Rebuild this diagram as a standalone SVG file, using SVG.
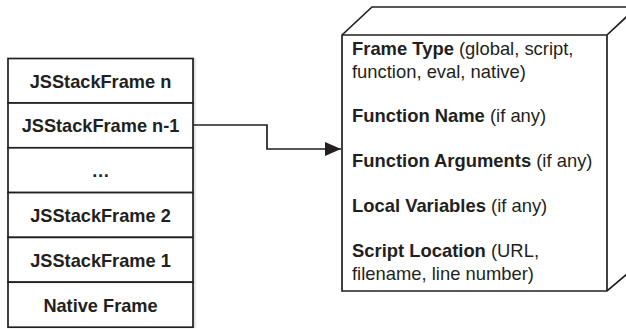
<svg xmlns="http://www.w3.org/2000/svg" width="626" height="329" viewBox="0 0 626 329">
<defs>
<style>
.box{fill:#fff;stroke:#231f20;stroke-width:1.7}
.ln{fill:none;stroke:#231f20;stroke-width:1.7}
.st{font-family:"Liberation Sans",Arial,sans-serif;font-size:18.2px;font-weight:bold;fill:#231f20;text-anchor:middle}
.tx{font-family:"Liberation Sans",Arial,sans-serif;font-size:18.4px;fill:#231f20}
.b{font-weight:bold}
</style>
<linearGradient id="sh" x1="0" y1="0" x2="1" y2="0">
<stop offset="0" stop-color="#bbb"/>
<stop offset="1" stop-color="#fff" stop-opacity="0"/>
</linearGradient>
<marker id="ah" markerWidth="18" markerHeight="14" refX="16" refY="7" orient="auto" markerUnits="userSpaceOnUse">
<path d="M0,0 L16,7 L0,14 z" fill="#231f20"/>
</marker>
</defs>
<rect x="193" y="58" width="5" height="270" fill="url(#sh)"/>
<g id="connectors">
<path class="ln" d="M193,125 H267 V149 H341" marker-end="url(#ah)"/>
</g>
<g id="stack">
<g id="frame-n"><rect class="box" x="8" y="58.5" width="185" height="44.5"/><text class="st" x="100.5" y="87.5">JSStackFrame n</text></g>
<g id="frame-n-1"><rect class="box" x="8" y="103" width="185" height="44.8"/><text class="st" x="100.5" y="132">JSStackFrame n-1</text></g>
<g id="frame-dots"><rect class="box" x="8" y="147.8" width="185" height="44.8"/><text class="st" x="100.5" y="177">…</text></g>
<g id="frame-2"><rect class="box" x="8" y="192.6" width="185" height="44.8"/><text class="st" x="100.5" y="222">JSStackFrame 2</text></g>
<g id="frame-1"><rect class="box" x="8" y="237.4" width="185" height="44.8"/><text class="st" x="100.5" y="266.5">JSStackFrame 1</text></g>
<g id="native"><rect class="box" x="8" y="282.2" width="185" height="45"/><text class="st" x="100.5" y="311.5">Native Frame</text></g>
</g>
<g id="frame-detail">
<path class="box" d="M342,35 L372,7 L640,7 L640,263 L607,291 L342,291 Z"/>
<path class="ln" d="M342,35 H607 V291 M607,35 L637,7"/>
<text class="tx" x="352" y="55"><tspan class="b">Frame Type</tspan> (global, script,</text>
<text class="tx" x="352" y="77.5">function, eval, native)</text>
<text class="tx" x="352" y="122"><tspan class="b">Function Name</tspan> (if any)</text>
<text class="tx" x="352" y="167"><tspan class="b">Function Arguments</tspan> (if any)</text>
<text class="tx" x="352" y="212"><tspan class="b">Local Variables</tspan> (if any)</text>
<text class="tx" x="352" y="257"><tspan class="b">Script Location</tspan> (URL,</text>
<text class="tx" x="352" y="279.5">filename, line number)</text>
</g>
</svg>
